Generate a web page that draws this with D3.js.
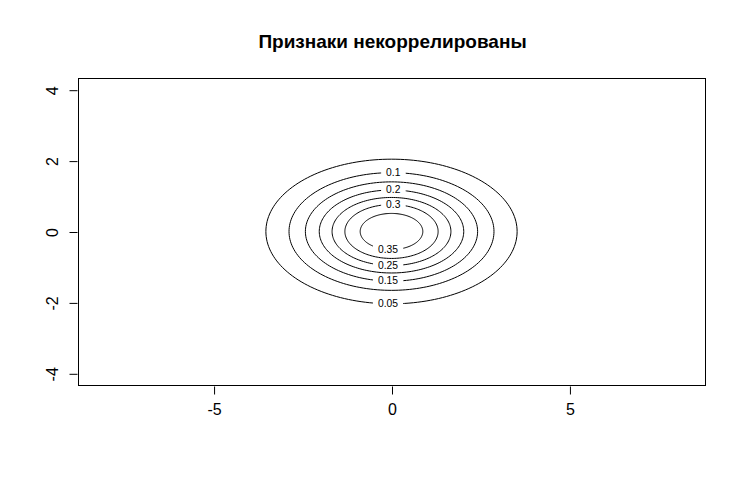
<!DOCTYPE html>
<html>
<head>
<meta charset="utf-8">
<script src="https://cdn.jsdelivr.net/npm/d3@7/dist/d3.min.js"></script>
<style>
  html, body { margin: 0; padding: 0; background: #fff; }
  svg { display: block; font-family: "Liberation Sans", Arial, sans-serif; }
</style>
</head>
<body>
<script>
// ---- data ----
const titleText = "Признаки некоррелированы";
const levels = [0.05, 0.1, 0.15, 0.2, 0.25, 0.3, 0.35];
const levelLabels = ["0.05", "0.1", "0.15", "0.2", "0.25", "0.3", "0.35"];
const semiX = [3.53, 2.88, 2.42, 2.03, 1.67, 1.31, 0.88];   // half-width of each contour (x units)
const semiY = [2.04, 1.66, 1.40, 1.17, 0.96, 0.76, 0.51];   // half-height of each contour (y units)
const centre = [0, 0];
const labelSide = ["bottom", "top", "bottom", "top", "bottom", "top", "bottom"];
const labelX = [-0.1, 0.05, -0.1, 0.05, -0.1, 0.05, -0.1];
const xTicks = [-5, 0, 5];
const yTicks = [-4, -2, 0, 2, 4];
const xDomain = [-8.81, 8.81];
const yDomain = [-4.33, 4.33];

const W = 746, H = 484;
const plot = { left: 78, right: 705, top: 78, bottom: 385 };

const svg = d3.select("body").append("svg").attr("width", W).attr("height", H);

const x = d3.scaleLinear().domain(xDomain).range([plot.left, plot.right]);
const y = d3.scaleLinear().domain(yDomain).range([plot.bottom, plot.top]);

// contours
const angles = d3.range(0, 360, 2).map(a => a * Math.PI / 180);
const g = svg.append("g");
levels.forEach((lv, i) => {
  const pts = angles.map(t => [centre[0] + semiX[i] * Math.cos(t), centre[1] + semiY[i] * Math.sin(t)]);
  g.append("path")
    .attr("d", d3.line().x(d => x(d[0])).y(d => y(d[1])).curve(d3.curveLinearClosed)(pts))
    .attr("fill", "none").attr("stroke", "#000").attr("stroke-width", 1);
});

// contour labels with a gap in the line
levels.forEach((lv, i) => {
  const lx = labelX[i];
  const ly = centre[1] + (labelSide[i] === "top" ? 1 : -1) * semiY[i] * Math.sqrt(1 - Math.pow((lx - centre[0]) / semiX[i], 2));
  const px = x(lx), py = y(ly);
  const t = g.append("text")
    .attr("x", px).attr("y", py + 3.2)
    .attr("text-anchor", "middle")
    .attr("font-size", 10.3)
    .attr("fill", "#000")
    .text(levelLabels[i]);
  const bb = t.node().getBBox();
  g.insert("rect", function() { return t.node(); })
    .attr("x", bb.x - 5).attr("y", py - 4.5)
    .attr("width", bb.width + 10).attr("height", 9)
    .attr("fill", "#fff");
});

// box
svg.append("rect")
  .attr("x", plot.left + 0.5).attr("y", plot.top + 0.5)
  .attr("width", plot.right - plot.left).attr("height", plot.bottom - plot.top)
  .attr("fill", "none").attr("stroke", "#000").attr("stroke-width", 1);

// x axis
const xAxis = d3.axisBottom(x).tickValues(xTicks).tickSize(8).tickPadding(9).tickFormat(d3.format("d"));
const xg = svg.append("g").attr("transform", `translate(0.5,${plot.bottom + 1.5})`).call(xAxis);
xg.select(".domain").remove();
xg.selectAll("text").attr("font-size", 16).attr("font-family", "Liberation Sans, Arial, sans-serif")
  .text(d => d < 0 ? "-" + Math.abs(d) : d);

// y axis
const yAxis = d3.axisLeft(y).tickValues(yTicks).tickSize(8).tickFormat(d3.format("d"));
const yg = svg.append("g").attr("transform", `translate(${plot.left - 0.5},0.5)`).call(yAxis);
yg.select(".domain").remove();
yg.selectAll("text").remove();
yg.selectAll(".tick").append("text")
  .attr("transform", "translate(-20,0) rotate(-90)")
  .attr("text-anchor", "middle")
  .attr("fill", "#000")
  .attr("font-size", 16)
  .attr("font-family", "Liberation Sans, Arial, sans-serif")
  .text(d => d < 0 ? "-" + Math.abs(d) : d);

// title
svg.append("text")
  .attr("x", (plot.left + plot.right) / 2 + 1).attr("y", 48)
  .attr("text-anchor", "middle")
  .attr("font-size", 19)
  .attr("font-weight", "bold")
  .attr("fill", "#000")
  .text(titleText);
</script>
</body>
</html>
